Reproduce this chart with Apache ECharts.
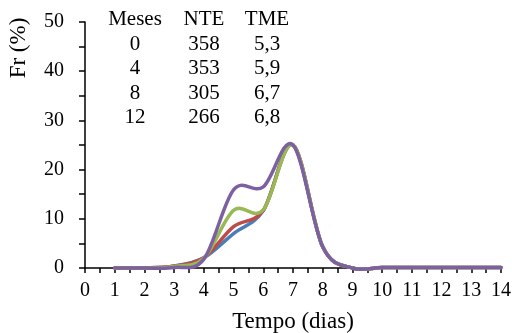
<!DOCTYPE html>
<html><head><meta charset="utf-8">
<script src="https://cdn.jsdelivr.net/npm/echarts@6/dist/echarts.min.js"></script>
<style>html,body{margin:0;padding:0;background:#fff}#c{width:512px;height:333px}</style>
</head><body><div id="c"></div>
<script>
var days = [1,2,3,4,5,6,7,8,9,10,11,12,13,14];
var m0  = [0,0,0.4,2.1,7.0,11.7,25,4.3,0,0.1,0.1,0.1,0.1,0.1];
var m4  = [0,0,0.4,2.1,8.4,11.7,25,4.3,0,0.1,0.1,0.1,0.1,0.1];
var m8  = [0,0,0.3,2.0,11.7,11.8,25,4.3,0,0.1,0.1,0.1,0.1,0.1];
var m12 = [0,0,0.1,1.8,15.9,16.5,25,4.3,0,0.1,0.1,0.1,0.1,0.1];
var tableHead = ['Meses','NTE','TME'];
var tableRows = [['0','358','5,3'],['4','353','5,9'],['8','305','6,7'],['12','266','6,8']];
var colors = ['#4A7EBB','#BE4B48','#98B954','#7D60A0'];
var font = 'Liberation Serif';

function pairs(v){ return days.map(function(d,i){ return [d, v[i]]; }); }

// Smooth line drawn like a spreadsheet "smoothed line" (Catmull-Rom through the data points),
// positioned through the chart's own cartesian scales (api.coord).
function smoothSeries(vals, color, z){
  return {
    type:'custom', coordinateSystem:'cartesian2d', data:pairs(vals), z:z,
    encode:{x:0, y:1}, clip:false,
    renderItem:function(params, api){
      if (params.dataIndex !== 0) return null;
      var pts = vals.map(function(v,i){ return api.coord([days[i], v]); });
      var n = pts.length;
      var d = 'M' + pts[0][0] + ' ' + pts[0][1];
      for (var i = 0; i < n - 1; i++){
        var p0 = pts[Math.max(i-1,0)], p1 = pts[i], p2 = pts[i+1], p3 = pts[Math.min(i+2,n-1)];
        var c1x = p1[0] + (p2[0]-p0[0])/6, c1y = p1[1] + (p2[1]-p0[1])/6;
        var c2x = p2[0] - (p3[0]-p1[0])/6, c2y = p2[1] - (p3[1]-p1[1])/6;
        d += ' C' + c1x + ' ' + c1y + ' ' + c2x + ' ' + c2y + ' ' + p2[0] + ' ' + p2[1];
      }
      return {type:'path', shape:{pathData:d},
        style:{fill:'none', stroke:color, lineWidth:3.5, lineJoin:'round', lineCap:'round'}};
    }
  };
}

var series = [m0,m4,m8,m12].map(function(v,i){ return smoothSeries(v, colors[i], 2+i); });

var graphics = [];
var colX = [135, 204, 267];
var rowY = [19, 44, 68.5, 93, 117.5];
function txt(t, x, y, size){
  return {type:'text', style:{text:t, x:x, y:y, fill:'#000', fontFamily:font, fontSize:size,
    textAlign:'center', textVerticalAlign:'middle'}};
}
tableHead.forEach(function(t,j){ graphics.push(txt(t, colX[j], rowY[0], 21)); });
tableRows.forEach(function(r,i){
  r.forEach(function(t,j){ graphics.push(txt(t, colX[j], rowY[i+1], 21)); });
});
var yTitle = txt('Fr (%)', 0, 0, 23);
yTitle.x = 19; yTitle.y = 48; yTitle.rotation = Math.PI/2;
graphics.push(yTitle);

var chart = echarts.init(document.getElementById('c'), null, {renderer:'canvas'});
chart.setOption({
  animation:false,
  grid:{left:85, right:11, top:22, bottom:65, containLabel:false, outerBoundsMode:'none'},
  xAxis:{type:'value', min:0, max:14, interval:1,
    name:'Tempo (dias)', nameLocation:'middle', nameGap:42,
    nameTextStyle:{fontFamily:font, fontSize:23, color:'#000'},
    axisLine:{onZero:false, lineStyle:{color:'#000', width:1.5}},
    axisTick:{show:true, inside:false, length:5, lineStyle:{color:'#000', width:1.5}},
    minorTick:{show:true, splitNumber:2, length:5, lineStyle:{color:'#000', width:1.5}},
    axisLabel:{fontFamily:font, fontSize:20, color:'#000', margin:13},
    splitLine:{show:false}},
  yAxis:{type:'value', min:0, max:50, interval:10,
    axisLine:{show:true, lineStyle:{color:'#000', width:1.5}},
    axisTick:{show:true, inside:false, length:6, lineStyle:{color:'#000', width:1.5}},
    minorTick:{show:true, splitNumber:2, length:6, lineStyle:{color:'#000', width:1.5}},
    axisLabel:{fontFamily:font, fontSize:20, color:'#000', margin:21},
    splitLine:{show:false}},
  series: series,
  graphic: graphics
});
</script></body></html>
